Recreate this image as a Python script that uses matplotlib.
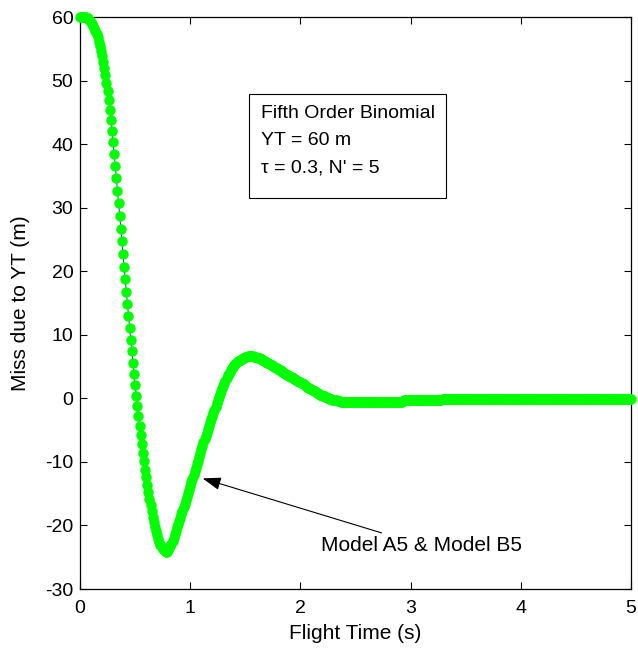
import numpy as np
import matplotlib
matplotlib.use("Agg")
import matplotlib.pyplot as plt
from matplotlib.patches import Rectangle

t_step = 0.01
miss = [
    60.0, 60.0, 60.0, 60.0, 60.0, 59.95, 59.9, 59.8, 59.6, 59.4,
    59.2, 58.9, 58.6, 58.2, 57.8, 57.3, 56.8, 56.1, 55.4, 54.6,
    53.8, 52.9, 51.9, 50.8, 49.6, 48.3, 46.9, 45.4, 43.8, 42.1,
    40.3, 38.5, 36.6, 34.7, 32.7, 30.7, 28.7, 26.7, 24.7, 22.7,
    20.7, 18.7, 16.8, 14.9, 13.0, 11.1, 9.2, 7.4, 5.6, 3.8,
    2.1, 0.4, -1.2, -2.8, -4.3, -5.8, -7.2, -8.6, -9.9, -11.2,
    -12.4, -13.6, -14.7, -15.8, -16.8, -17.7, -18.6, -19.4, -20.2, -20.9,
    -21.5, -22.1, -22.6, -23.0, -23.4, -23.7, -23.9, -24.0, -24.1, -24.1,
    -23.9, -23.6, -23.3, -22.9, -22.4, -21.9, -21.3, -20.8, -20.3, -19.8,
    -19.3, -18.8, -18.2, -17.7, -17.1, -16.6, -16.0, -15.5, -14.9, -14.4,
    -13.8, -13.2, -12.7, -12.1, -11.5, -10.9, -10.4, -9.8, -9.2, -8.6,
    -8.0, -7.5, -6.9, -6.4, -5.9, -5.4, -4.8, -4.3, -3.8, -3.3,
    -2.8, -2.3, -1.8, -1.3, -0.8, -0.3, 0.2, 0.7, 1.2, 1.6,
    2.0, 2.4, 2.8, 3.2, 3.6, 3.9, 4.2, 4.5, 4.8, 5.0,
    5.2, 5.4, 5.6, 5.8, 5.9, 6.0, 6.1, 6.2, 6.3, 6.4,
    6.5, 6.5, 6.6, 6.6, 6.6, 6.6, 6.6, 6.6, 6.5, 6.5,
    6.5, 6.4, 6.4, 6.3, 6.2, 6.1, 6.0, 5.9, 5.8, 5.7,
    5.6, 5.5, 5.4, 5.3, 5.2, 5.1, 5.0, 4.9, 4.8, 4.7,
    4.6, 4.5, 4.4, 4.2, 4.1, 4.0, 3.9, 3.8, 3.7, 3.6,
    3.5, 3.4, 3.3, 3.2, 3.1, 3.0, 2.9, 2.8, 2.7, 2.6,
    2.5, 2.4, 2.3, 2.2, 2.1, 1.9, 1.8, 1.7, 1.6, 1.5,
    1.4, 1.3, 1.2, 1.1, 1.0, 0.9, 0.8, 0.7, 0.6, 0.5,
    0.4, 0.4, 0.3, 0.2, 0.1, 0.0, 0.0, -0.1, -0.1, -0.2,
    -0.2, -0.3, -0.3, -0.3, -0.4, -0.4, -0.4, -0.5, -0.5, -0.5,
    -0.5, -0.6, -0.6, -0.6, -0.6, -0.6, -0.6, -0.6, -0.6, -0.6,
    -0.6, -0.6, -0.6, -0.6, -0.6, -0.6, -0.6, -0.6, -0.6, -0.6,
    -0.6, -0.6, -0.6, -0.6, -0.6, -0.6, -0.6, -0.6, -0.6, -0.6,
    -0.6, -0.6, -0.6, -0.6, -0.6, -0.6, -0.6, -0.6, -0.6, -0.6,
    -0.6, -0.6, -0.6, -0.6, -0.6, -0.6, -0.6, -0.6, -0.6, -0.6,
    -0.6, -0.5, -0.5, -0.4, -0.3, -0.3, -0.3, -0.3, -0.3, -0.3,
    -0.3, -0.3, -0.3, -0.3, -0.3, -0.3, -0.3, -0.3, -0.3, -0.3,
    -0.3, -0.3, -0.3, -0.3, -0.3, -0.3, -0.3, -0.3, -0.3, -0.3,
    -0.3, -0.3, -0.3, -0.3, -0.3, -0.3, -0.3, -0.2, -0.2, -0.1,
    -0.1, -0.1, -0.1, -0.1, -0.1, -0.1, -0.1, -0.1, -0.1, -0.1,
    -0.1, -0.1, -0.1, -0.1, -0.1, -0.1, -0.1, -0.1, -0.1, -0.1,
    -0.1, -0.1, -0.1, -0.1, -0.1, -0.1, -0.1, -0.1, -0.1, -0.1,
    -0.1, -0.1, -0.1, -0.1, -0.1, -0.1, -0.1, -0.1, -0.1, -0.1,
    -0.1, -0.1, -0.1, -0.1, -0.1, -0.1, -0.1, -0.1, -0.1, -0.1,
    -0.1, -0.1, -0.1, -0.1, -0.1, -0.1, -0.1, -0.1, -0.1, -0.1,
    -0.1, -0.1, -0.1, -0.1, -0.1, -0.1, -0.1, -0.1, -0.1, -0.1,
    -0.1, -0.1, -0.1, -0.1, -0.1, -0.1, -0.1, -0.1, -0.1, -0.1,
    -0.1, -0.1, -0.1, -0.1, -0.1, -0.1, -0.1, -0.1, -0.1, -0.1,
    -0.1, -0.1, -0.1, -0.1, -0.1, -0.1, -0.1, -0.1, -0.1, -0.1,
    -0.1, -0.1, -0.1, -0.1, -0.1, -0.1, -0.1, -0.1, -0.1, -0.1,
    -0.1, -0.1, -0.1, -0.1, -0.1, -0.1, -0.1, -0.1, -0.1, -0.1,
    -0.1, -0.1, -0.1, -0.1, -0.1, -0.1, -0.1, -0.1, -0.1, -0.1,
    -0.1, -0.1, -0.1, -0.1, -0.1, -0.1, -0.1, -0.1, -0.1, -0.1,
    -0.1, -0.1, -0.1, -0.1, -0.1, -0.1, -0.1, -0.1, -0.1, -0.1,
    -0.1, -0.1, -0.1, -0.1, -0.1, -0.1, -0.1, -0.1, -0.1, -0.1,
    -0.1, -0.1, -0.1, -0.1, -0.1, -0.1, -0.1, -0.1, -0.1, -0.1,
    -0.1,
]
t = np.arange(len(miss)) * t_step

box_lines = ["Fifth Order Binomial", "YT = 60 m", "\u03c4 = 0.3, N' = 5"]
note = "Model A5 & Model B5"

plt.rcParams["font.family"] = ["Liberation Sans", "DejaVu Sans"]
plt.rcParams["axes.unicode_minus"] = False

fig = plt.figure(figsize=(6.38, 6.49), dpi=100)
ax = fig.add_axes([80 / 638, 1 - 589 / 649, 551 / 638, 572 / 649])

# model A5 as thin blue line, model B5 as green dots on top
ax.plot(t, miss, color="blue", lw=0.6, zorder=2)
ax.plot(t, miss, "o", color=(0, 1, 0), mec=(0, 1, 0), ms=6.5, zorder=3,
        clip_on=False)

ax.set_xlim(0, 5)
ax.set_ylim(-30, 60)
ax.set_xticks(range(0, 6))
ax.set_yticks(range(-30, 61, 10))
ax.tick_params(direction="in", top=True, right=True, length=5, width=0.8,
               labelsize=14)
ax.tick_params(axis="x", pad=8)
ax.tick_params(axis="y", pad=4.8)
for s in ax.spines.values():
    s.set_linewidth(0.9)

ax.set_xlabel("Flight Time (s)", fontsize=15, labelpad=5)
ax.set_ylabel("Miss due to YT (m)", fontsize=15, labelpad=11)

# text box
ax.add_patch(Rectangle((1.534, 31.5), 1.79, 16.4, fc="white", ec="black",
                       lw=0.8, zorder=4))
for i, line in enumerate(box_lines):
    ax.text(1.643, 44.1 - 4.25 * i, line, fontsize=14, va="baseline",
            ha="left", zorder=5)

ax.annotate(note, xy=(1.113, -12.6), xytext=(2.19, -23.1),
            fontsize=15, va="center", ha="left",
            arrowprops=dict(arrowstyle="-|>,head_length=0.8,head_width=0.28",
                            color="black", lw=0.8, mutation_scale=14,
                            shrinkA=0, shrinkB=0))

fig.savefig("out.png", dpi=100)
